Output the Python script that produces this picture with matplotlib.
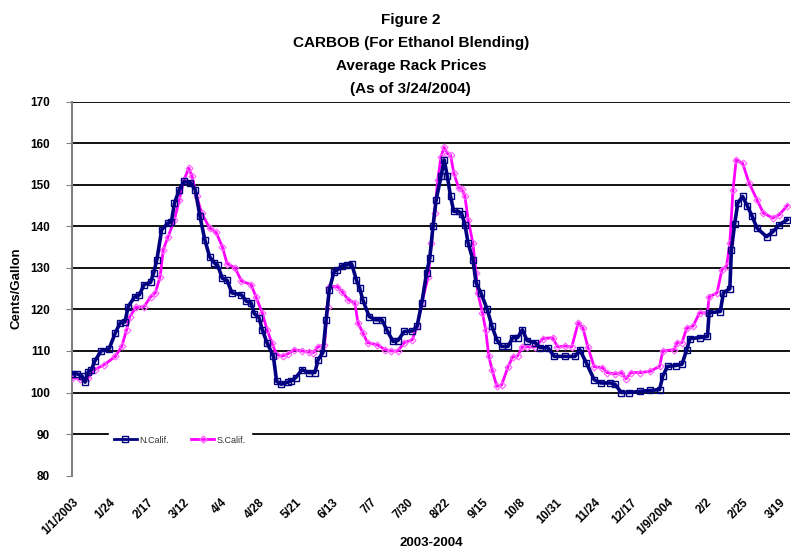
import pandas as pd
import matplotlib.pyplot as plt
from matplotlib.lines import Line2D

plt.rcParams['font.family'] = ['Liberation Sans', 'DejaVu Sans']

start = pd.Timestamp('2003-01-01')

# days after 1/1/2003
n_days = [0, 3, 6, 8, 10, 12, 14, 18, 23, 27, 30, 33, 35, 39, 42, 45, 49, 51, 53, 56,
          60, 62, 64, 67, 70, 74, 77, 80, 83, 86, 89, 91, 94, 97, 100, 106, 109, 112, 114, 117,
          119, 122, 126, 128, 131, 135, 137, 140, 144, 148, 152, 154, 157, 159, 161, 164, 166, 169, 172, 175,
          178, 180, 182, 186, 190, 194, 197, 201, 204, 208, 213, 216, 219, 222, 224, 226, 228, 231, 233, 235,
          237, 239, 242, 244, 246, 248, 251, 253, 256, 260, 263, 266, 269, 273, 276, 279, 282, 285, 290, 293,
          298, 302, 309, 315, 318, 322, 327, 331, 337, 340, 344, 349, 356, 362, 368, 370, 373, 378, 382, 385,
          387, 393, 398, 399, 406, 408, 412, 413, 415, 417, 420, 423, 426, 429, 435, 439, 443, 448]
n_calif = [104.5, 104.5, 104.0, 102.5, 105.0, 105.5, 107.5, 110.0, 110.5, 114.4, 116.8, 117.0, 120.7, 123.0, 123.5, 126.0, 126.5, 128.8, 132.0, 139.2,
           140.8, 141.0, 145.6, 148.8, 150.8, 150.5, 148.8, 142.4, 136.8, 132.7, 131.2, 130.7, 127.5, 127.0, 124.0, 123.5, 122.0, 121.6, 119.0, 118.0,
           115.1, 112.0, 108.7, 102.7, 102.0, 102.5, 102.8, 103.6, 105.5, 104.8, 104.8, 107.9, 109.6, 117.5, 124.7, 129.1, 129.5, 130.5, 130.7, 131.0,
           127.1, 125.2, 122.3, 118.3, 117.5, 117.5, 115.1, 112.3, 112.5, 114.7, 114.8, 115.9, 121.6, 128.8, 132.4, 140.0, 146.4, 152.0, 156.0, 152.0,
           147.2, 143.6, 143.6, 143.0, 140.4, 136.0, 132.0, 126.4, 124.0, 120.0, 115.9, 112.7, 111.1, 111.1, 113.2, 113.2, 115.1, 112.5, 112.0, 110.8,
           110.8, 108.7, 108.7, 108.7, 110.3, 107.2, 103.1, 102.3, 102.3, 102.0, 100.0, 100.0, 100.3, 100.5, 100.7, 104.0, 106.3, 106.5, 106.8, 110.3,
           113.0, 113.2, 113.5, 119.2, 119.5, 124.0, 125.0, 134.4, 140.5, 145.6, 147.2, 144.9, 142.4, 139.6, 137.5, 138.7, 140.4, 141.6]

s_days = [0, 5, 10, 14, 20, 27, 31, 34, 36, 40, 45, 49, 52, 55, 57, 60, 64, 67, 70, 73,
          75, 78, 81, 86, 90, 94, 97, 102, 106, 112, 115, 119, 122, 125, 128, 132, 135, 139, 144, 148,
          151, 154, 158, 160, 161, 166, 169, 173, 177, 179, 182, 185, 191, 196, 200, 204, 208, 213, 216, 219,
          223, 225, 227, 229, 231, 233, 235, 237, 239, 242, 244, 246, 248, 251, 253, 254, 257, 259, 261, 263,
          266, 269, 273, 276, 279, 282, 285, 290, 295, 301, 304, 309, 313, 317, 320, 323, 327, 332, 335, 340,
          344, 347, 350, 356, 362, 368, 370, 377, 379, 382, 385, 389, 393, 398, 399, 404, 407, 410, 412, 414,
          416, 420, 424, 429, 433, 439, 443, 448]
s_calif = [103.6, 103.2, 103.6, 105.5, 106.7, 108.7, 111.1, 115.1, 118.3, 120.5, 120.7, 123.0, 124.0, 127.9, 134.4, 137.5, 141.6, 146.4, 151.2, 154.0,
           152.0, 147.2, 143.2, 139.6, 138.6, 135.1, 131.0, 130.0, 126.8, 126.0, 123.1, 119.2, 115.1, 112.0, 109.1, 108.8, 109.3, 110.3, 110.0, 109.8,
           109.6, 111.0, 111.5, 120.7, 125.5, 125.5, 124.3, 122.3, 121.6, 116.8, 114.4, 112.0, 111.5, 110.3, 110.0, 110.0, 112.0, 112.7, 115.9, 121.6,
           127.9, 136.0, 143.2, 151.2, 156.8, 159.0, 157.5, 157.2, 152.9, 149.3, 149.0, 147.2, 141.6, 136.0, 128.8, 124.0, 119.2, 115.1, 108.7, 105.5,
           101.5, 101.8, 106.2, 108.6, 108.8, 111.0, 111.0, 111.0, 113.0, 113.2, 111.0, 111.2, 111.0, 116.8, 115.5, 111.0, 106.2, 106.0, 104.8, 104.5,
           104.8, 103.3, 104.8, 104.8, 105.1, 106.3, 110.0, 110.3, 112.0, 112.0, 115.5, 116.0, 119.2, 119.2, 123.0, 124.0, 129.5, 130.5, 136.0, 148.8,
           156.0, 155.2, 150.5, 146.4, 143.2, 142.0, 142.8, 145.0]

tick_dates = ['2003-01-01', '2003-01-24', '2003-02-17', '2003-03-12', '2003-04-04', '2003-04-28',
              '2003-05-21', '2003-06-13', '2003-07-07', '2003-07-30', '2003-08-22', '2003-09-15',
              '2003-10-08', '2003-10-31', '2003-11-24', '2003-12-17', '2004-01-09', '2004-02-02',
              '2004-02-25', '2004-03-19']
tick_labels = ['1/1/2003', '1/24', '2/17', '3/12', '4/4', '4/28', '5/21', '6/13', '7/7', '7/30',
               '8/22', '9/15', '10/8', '10/31', '11/24', '12/17', '1/9/2004', '2/2', '2/25', '3/19']

navy = '#000080'
pink = '#ff00ff'

n_x = start + pd.to_timedelta(n_days, unit='D')
s_x = start + pd.to_timedelta(s_days, unit='D')

fig = plt.figure(figsize=(7.93, 5.57), dpi=100)
ax = fig.add_axes([0.0912, 0.1461, 0.9048, 0.6713])

for v in range(90, 171, 10):
    ax.axhline(v, color='black', lw=1.3, zorder=1)

ax.plot(s_x, s_calif, color=pink, lw=2, marker='D', ms=3.5, mfc='none',
        mec='#ff66ff', mew=0.9, zorder=3)
ax.plot(n_x, n_calif, color=navy, lw=2.6, marker='s', ms=4, mfc='none',
        mec=navy, mew=1.0, zorder=4)

ax.set_ylim(80, 170)
ax.set_yticks(range(80, 171, 10))
ax.set_xlim(start, start + pd.Timedelta(days=449.6))
ax.set_xticks(pd.to_datetime(tick_dates))
ax.set_xticklabels(tick_labels, rotation=45, ha='right', va='top', rotation_mode='anchor',
                   fontsize=8.5, fontweight='bold')
ax.tick_params(axis='x', length=0, pad=15)
ax.tick_params(axis='y', length=4, pad=12, labelsize=8.5, color='#808080')
for lab in ax.get_yticklabels():
    lab.set_fontweight('bold')

for s in ['top', 'right', 'bottom']:
    ax.spines[s].set_visible(False)
ax.spines['left'].set_color('#808080')
ax.spines['left'].set_linewidth(1.5)

ax.set_ylabel('Cents/Gallon', fontsize=9.5, fontweight='bold')
ax.yaxis.set_label_coords(-0.070, 0.5)
ax.set_xlabel('2003-2004', fontsize=9.5, fontweight='bold')
ax.xaxis.set_label_coords(0.5, -0.163)

handles = [Line2D([], [], color=navy, lw=2, marker='s', ms=4, mfc='none', mec=navy),
           Line2D([], [], color=pink, lw=2, marker='D', ms=3.5, mfc='none', mec='#ff66ff')]
leg = ax.legend(handles, ['N.Calif.', 'S.Calif.'], loc='center', bbox_to_anchor=(0.15, 0.095),
                ncol=2, frameon=True, fancybox=False, edgecolor='white', framealpha=1,
                fontsize=6.5, handlelength=2.5, handletextpad=0.3, columnspacing=2.5,
                borderpad=0.6, numpoints=1)
for t in leg.get_texts():
    t.set_color('#333333')

title_lines = ['Figure 2', 'CARBOB (For Ethanol Blending)', 'Average Rack Prices', '(As of 3/24/2004)']
for i, line in enumerate(title_lines):
    fig.text(0.518, 1 - (20 + 23 * i) / 557, line, ha='center', va='center',
             fontsize=11, fontweight='bold')

fig.savefig('out.png', dpi=100)
